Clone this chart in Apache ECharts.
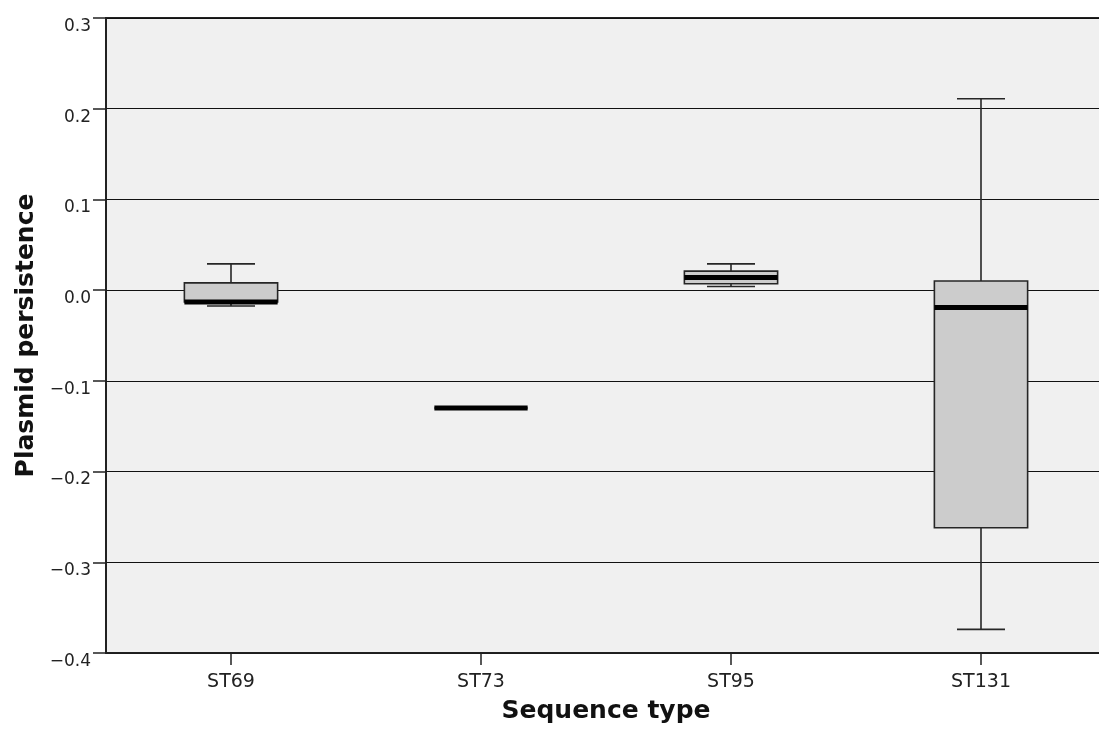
<!DOCTYPE html>
<html>
<head>
<meta charset="utf-8">
<script src="https://cdn.jsdelivr.net/npm/echarts@6/dist/echarts.min.js"></script>
<style>
html,body{margin:0;padding:0;background:#fff;overflow:hidden;}
#chart{width:1106px;height:729px;}
</style>
</head>
<body>
<div id="chart"></div>
<script>
// Data
const categories = ['ST69', 'ST73', 'ST95', 'ST131'];
const lowerWhisker = [-0.0175, -0.130, 0.004, -0.374];
const q1 = [-0.013, -0.130, 0.007, -0.262];
const median = [-0.013, -0.130, 0.014, -0.019];
const q3 = [0.008, -0.130, 0.021, 0.010];
const upperWhisker = [0.029, -0.130, 0.029, 0.211];

const FONT = 'DejaVu Sans';
const boxData = categories.map((c, i) => [i, lowerWhisker[i], q1[i], median[i], q3[i], upperWhisker[i]]);

const chart = echarts.init(document.getElementById('chart'), null, {renderer: 'canvas'});

function renderBox(params, api) {
  const i = api.value(0);
  const band = api.size([1, 0])[0];
  const bw = band * 0.373;
  const cw = band * 0.192;
  const pLo = api.coord([i, api.value(1)]);
  const pQ1 = api.coord([i, api.value(2)]);
  const pMed = api.coord([i, api.value(3)]);
  const pQ3 = api.coord([i, api.value(4)]);
  const pHi = api.coord([i, api.value(5)]);
  const cx = pMed[0];
  const lineStyle = {stroke: '#262626', lineWidth: 1.6, fill: null};
  return {
    type: 'group',
    children: [
      {type: 'line', shape: {x1: cx, y1: pHi[1], x2: cx, y2: pQ3[1]}, style: lineStyle},
      {type: 'line', shape: {x1: cx, y1: pQ1[1], x2: cx, y2: pLo[1]}, style: lineStyle},
      {type: 'line', shape: {x1: cx - cw / 2, y1: pHi[1], x2: cx + cw / 2, y2: pHi[1]}, style: lineStyle},
      {type: 'line', shape: {x1: cx - cw / 2, y1: pLo[1], x2: cx + cw / 2, y2: pLo[1]}, style: lineStyle},
      {type: 'rect', shape: {x: cx - bw / 2, y: pQ3[1], width: bw, height: pQ1[1] - pQ3[1]},
        style: {fill: '#cccccc', stroke: '#262626', lineWidth: 1.6}},
      {type: 'line', shape: {x1: cx - bw / 2, y1: pMed[1], x2: cx + bw / 2, y2: pMed[1]},
        style: {stroke: '#000', lineWidth: 5, lineCap: 'butt'}}
    ]
  };
}

const option = {
  animation: false,
  backgroundColor: '#ffffff',
  grid: {
    left: 106, right: 0, top: 18, bottom: 75,
    show: true, backgroundColor: '#f0f0f0', borderColor: '#222', borderWidth: 2,
    containLabel: false
  },
  xAxis: {
    type: 'category',
    data: categories,
    boundaryGap: true,
    name: 'Sequence type',
    nameLocation: 'middle',
    nameGap: 46,
    nameTextStyle: {fontFamily: FONT, fontSize: 25, fontWeight: 'bold', color: '#111'},
    axisLine: {show: true, onZero: false, lineStyle: {color: '#222', width: 1.5}},
    axisTick: {show: true, alignWithLabel: true, length: 12, lineStyle: {color: '#222', width: 1.5}},
    axisLabel: {fontFamily: FONT, fontSize: 19, color: '#222', margin: 20},
    splitLine: {show: false}
  },
  yAxis: {
    type: 'value',
    min: -0.4, max: 0.3, interval: 0.1,
    name: 'Plasmid persistence',
    nameLocation: 'middle',
    nameGap: 64,
    nameRotate: 90,
    nameTextStyle: {fontFamily: FONT, fontSize: 25, fontWeight: 'bold', color: '#111'},
    axisLine: {show: true, lineStyle: {color: '#222', width: 1.5}},
    axisTick: {show: true, inside: false, length: 13, lineStyle: {color: '#222', width: 1.5}},
    axisLabel: {
      fontFamily: FONT, fontSize: 17, color: '#222', margin: 15,
      verticalAlign: 'top', lineHeight: 17,
      formatter: v => {
        if (Math.abs(v) < 1e-9) return '0.0';
        return v.toFixed(1).replace('-', '\u2212');
      }
    },
    splitLine: {show: true, lineStyle: {color: '#111', width: 1}}
  },
  series: [{
    type: 'custom',
    renderItem: renderBox,
    encode: {x: 0, y: [1, 2, 3, 4, 5]},
    data: boxData,
    clip: false,
    z: 5
  }]
};
chart.setOption(option);
</script>
</body>
</html>
